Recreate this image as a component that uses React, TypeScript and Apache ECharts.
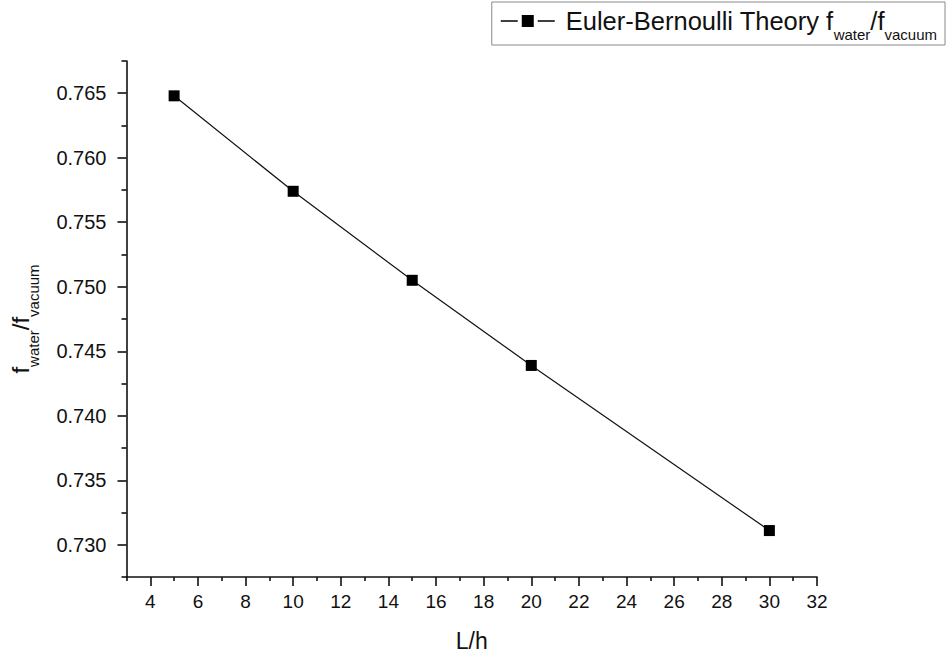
import React, { useEffect, useRef } from "react";
import * as echarts from "echarts";

const xValues = [5, 10, 15, 20, 30];
const yValues = [0.7648, 0.7574, 0.7505, 0.7439, 0.7311];
const xMajorTicks = [4, 6, 8, 10, 12, 14, 16, 18, 20, 22, 24, 26, 28, 30, 32];
const xMinorTicks = [3, 5, 7, 9, 11, 13, 15, 17, 19, 21, 23, 25, 27, 29, 31];
const yMajorTicks = [0.73, 0.735, 0.74, 0.745, 0.75, 0.755, 0.76, 0.765];
const yMinorTicks = [0.7275, 0.7325, 0.7375, 0.7425, 0.7475, 0.7525, 0.7575, 0.7625, 0.7675];
const seriesName = "Euler-Bernoulli Theory";

const FONT = "'Liberation Sans', Arial, sans-serif";

export default function App() {
  const ref = useRef<HTMLDivElement>(null);
  useEffect(() => {
    if (!ref.current) return;
    const chart = echarts.init(ref.current, undefined, { renderer: "svg" });
    const axisLineStyle = { color: "#111", width: 1.6 };
    const data = xValues.map((x, i) => [x, yValues[i]]);
    chart.setOption({
      animation: false,
      backgroundColor: "#fff",
      textStyle: { fontFamily: FONT },
      grid: { left: 121, right: 131, top: 61, bottom: 82, containLabel: false },
      legend: {
        right: 3,
        top: 2,
        orient: "horizontal",
        borderColor: "#8a8a8a",
        borderWidth: 1,
        padding: [6, 8, 3, 9],
        itemWidth: 54,
        itemHeight: 12,
        icon: "path://M0,5.3 H17 V6.7 H0 Z M21,0 H33 V12 H21 Z M37,5.3 H54 V6.7 H37 Z",
        data: [seriesName],
        formatter: (n: string) => `{g|}{m|${n} f}{s|water}{m|/f}{s|vacuum}`,
        textStyle: {
          fontFamily: FONT,
          color: "#111",
          rich: {
            g: { width: 6 },
            m: { fontSize: 25.5, fontFamily: FONT, color: "#111" },
            s: { fontSize: 15, fontFamily: FONT, color: "#111", padding: [27, 0, 0, 0] },
          },
        },
      },
      xAxis: [
        {
          type: "value",
          min: 3,
          max: 32,
          name: "L/h",
          nameLocation: "middle",
          nameGap: 52,
          nameTextStyle: { fontSize: 23, color: "#111", fontFamily: FONT },
          axisLine: { show: true, onZero: false, lineStyle: axisLineStyle },
          axisTick: { show: true, inside: false, length: 9, lineStyle: axisLineStyle, customValues: xMajorTicks },
          axisLabel: { show: true, customValues: xMajorTicks, fontSize: 19, color: "#111", margin: 15, fontFamily: FONT },
          splitLine: { show: false },
        },
        {
          type: "value",
          min: 3,
          max: 32,
          position: "bottom",
          axisLine: { show: false, onZero: false },
          axisTick: { show: true, length: 4, lineStyle: axisLineStyle, customValues: xMinorTicks },
          axisLabel: { show: false },
          splitLine: { show: false },
        },
      ],
      yAxis: [
        {
          type: "value",
          min: 0.7275,
          max: 0.7675,
          name: "{m|f}{s|water}{m|/f}{s|vacuum}",
          nameLocation: "middle",
          nameGap: 86,
          nameTextStyle: {
            color: "#111",
            fontFamily: FONT,
            rich: {
              m: { fontSize: 24, fontFamily: FONT, color: "#111" },
              s: { fontSize: 15, fontFamily: FONT, color: "#111", padding: [26, 0, 0, 0] },
            },
          },
          axisLine: { show: true, onZero: false, lineStyle: axisLineStyle },
          axisTick: { show: true, inside: false, length: 9, lineStyle: axisLineStyle, customValues: yMajorTicks },
          axisLabel: {
            show: true,
            customValues: yMajorTicks,
            fontSize: 20,
            color: "#111",
            margin: 20,
            fontFamily: FONT,
            formatter: (v: number) => v.toFixed(3),
          },
          splitLine: { show: false },
        },
        {
          type: "value",
          min: 0.7275,
          max: 0.7675,
          position: "left",
          axisLine: { show: false, onZero: false },
          axisTick: { show: true, length: 5, lineStyle: axisLineStyle, customValues: yMinorTicks },
          axisLabel: { show: false },
          splitLine: { show: false },
        },
      ],
      series: [
        {
          name: seriesName,
          type: "line",
          data,
          xAxisIndex: 0,
          yAxisIndex: 0,
          symbol: "rect",
          symbolSize: 11,
          lineStyle: { color: "#111", width: 1.2 },
          itemStyle: { color: "#000" },
        },
      ],
    });
    return () => chart.dispose();
  }, []);
  return (
    <div
      ref={ref}
      style={{ position: "fixed", left: 0, top: 0, width: 948, height: 659, background: "#fff" }}
    />
  );
}
